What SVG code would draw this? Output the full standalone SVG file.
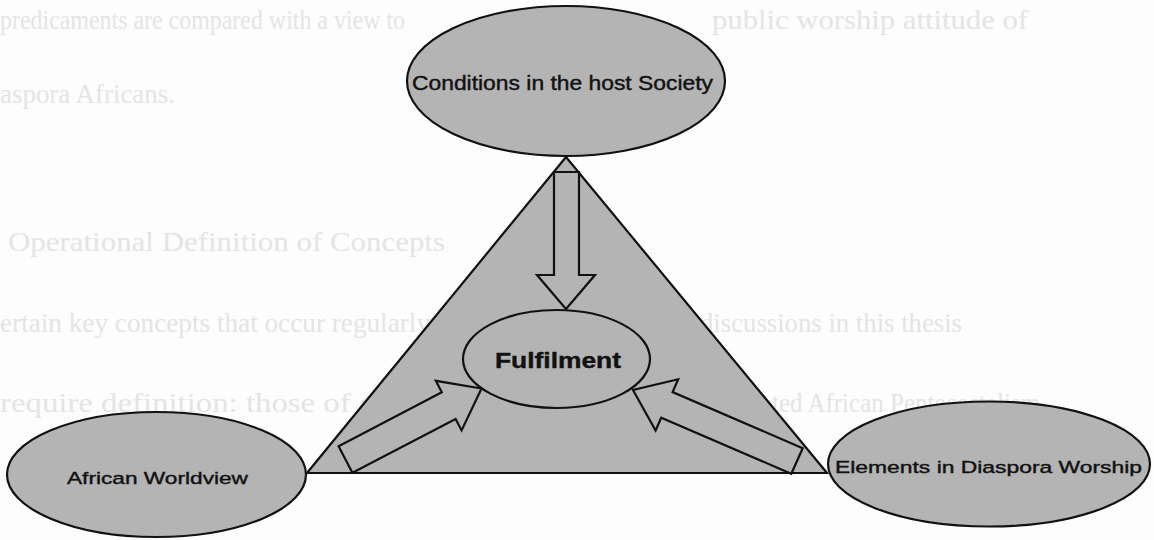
<svg xmlns="http://www.w3.org/2000/svg" width="1154" height="540" viewBox="0 0 1154 540">
  <style>
    .shape { fill: #b4b4b4; stroke: #111; stroke-width: 2.2; }
    .arrow { fill: #b4b4b4; stroke: #111; stroke-width: 2.2; stroke-linejoin: miter; }
    .lbl { font-family: "Liberation Sans", Arial, sans-serif; fill: #111; stroke: #111; stroke-width: 0.4; }
    .ghost { font-family: "Liberation Serif", "Times New Roman", serif; fill: #e4e4e4; font-size: 28px; }
  </style>
  <rect x="0" y="0" width="1154" height="540" fill="#fdfdfd"/>

  <g id="ghost-text">
    <text class="ghost" x="0" y="29" textLength="405" lengthAdjust="spacingAndGlyphs">predicaments are compared with a view to</text>
    <text class="ghost" x="712" y="29" textLength="316" lengthAdjust="spacingAndGlyphs">public worship attitude of</text>
    <text class="ghost" x="0" y="103" textLength="175" lengthAdjust="spacingAndGlyphs">aspora Africans.</text>
    <text class="ghost" x="8" y="251" textLength="437" lengthAdjust="spacingAndGlyphs">Operational Definition of Concepts</text>
    <text class="ghost" x="0" y="332" textLength="430" lengthAdjust="spacingAndGlyphs">ertain key concepts that occur regularly</text>
    <text class="ghost" x="700" y="332" textLength="262" lengthAdjust="spacingAndGlyphs">discussions in this thesis</text>
    <text class="ghost" x="0" y="412" textLength="470" lengthAdjust="spacingAndGlyphs">require definition: those of diaspora</text>
    <text class="ghost" x="772" y="412" textLength="268" lengthAdjust="spacingAndGlyphs">ted African Pentecostalism</text>
  </g>

  <g id="triangle">
    <polygon class="shape" points="566,157 307,473 827,473"/>
  </g>

  <g id="node-conditions">
    <ellipse class="shape" cx="566" cy="81" rx="159" ry="75"/>
    <text class="lbl" x="412" y="90" font-size="19.5" textLength="301" lengthAdjust="spacingAndGlyphs">Conditions in the host Society</text>
  </g>

  <g id="node-african-worldview">
    <ellipse class="shape" cx="156.5" cy="474.5" rx="149.5" ry="62.5"/>
    <text class="lbl" x="67" y="484" font-size="17.2" textLength="181" lengthAdjust="spacingAndGlyphs">African Worldview</text>
  </g>

  <g id="node-diaspora-worship">
    <ellipse class="shape" cx="989" cy="464" rx="161" ry="62.5"/>
    <text class="lbl" x="835" y="473" font-size="17.2" textLength="307" lengthAdjust="spacingAndGlyphs">Elements in Diaspora Worship</text>
  </g>

  <g id="connectors">
    <polygon class="arrow" points="554,172 579,172 579,275 595,275 566,309 537,275 554,275"/>
    <polygon class="arrow" points="338.6,446.2 441.8,392.3 435.8,380.8 481.5,388.5 461.6,430.4 455.6,418.9 352.4,472.8"/>
    <polygon class="arrow" points="802.7,448.2 672.6,392.1 678.2,379.3 633,390 655.6,430.5 661.2,417.7 791.3,473.8"/>
  </g>

  <g id="node-fulfilment">
    <ellipse class="shape" cx="556.5" cy="359" rx="93.5" ry="49"/>
    <text class="lbl" x="495" y="368" font-size="22" font-weight="bold" textLength="126" lengthAdjust="spacingAndGlyphs">Fulfilment</text>
  </g>
</svg>
